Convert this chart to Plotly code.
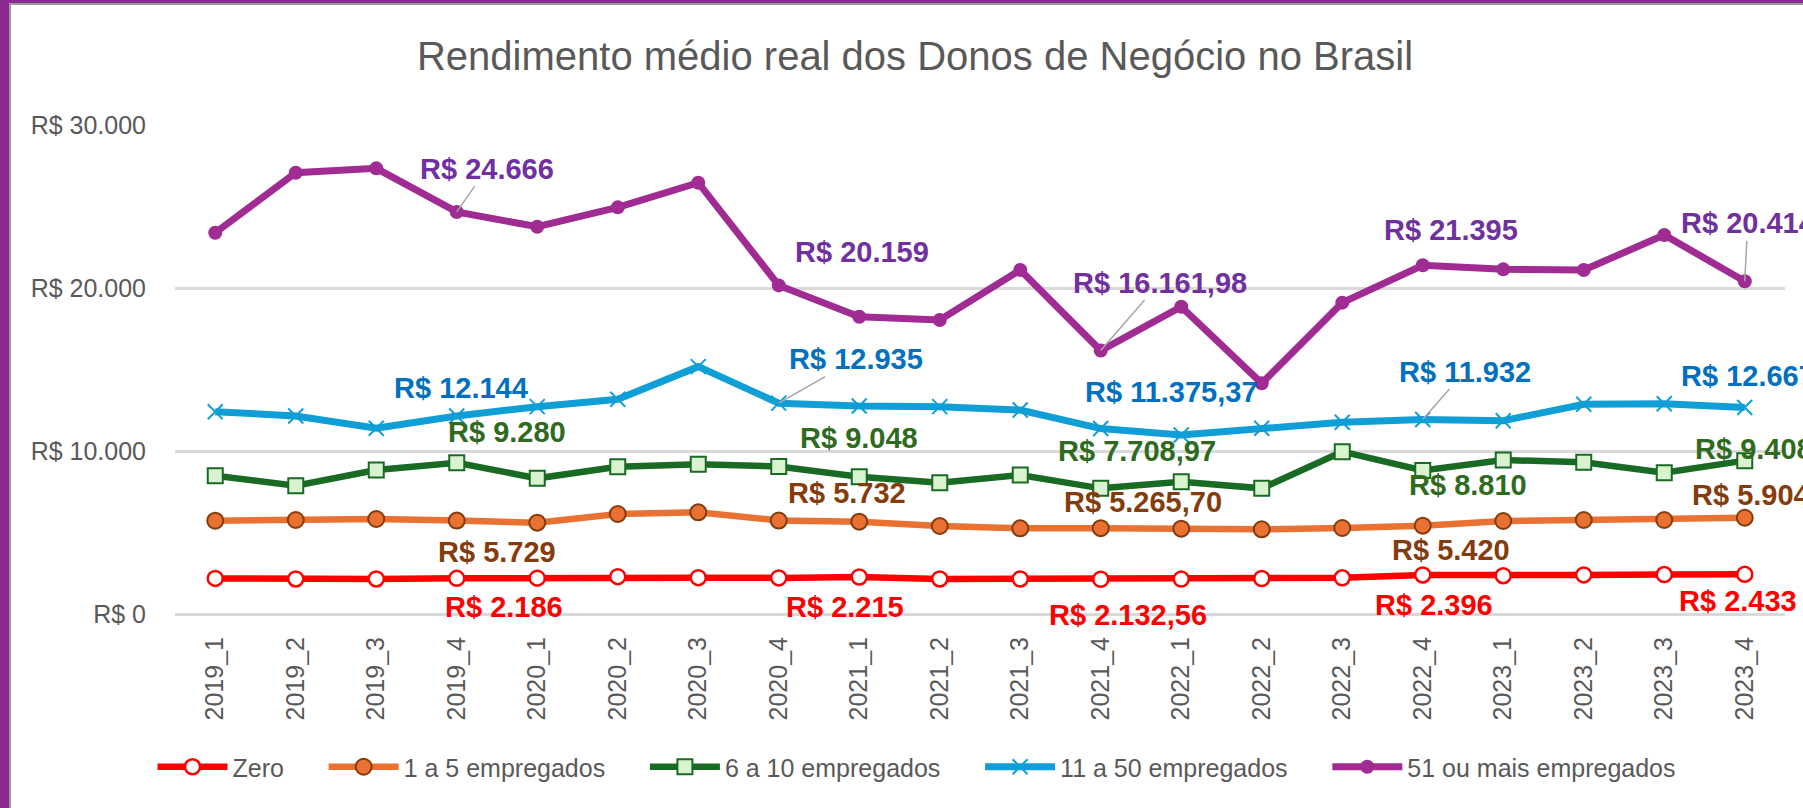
import plotly.graph_objects as go

quarters = ['2019_1', '2019_2', '2019_3', '2019_4', '2020_1', '2020_2', '2020_3', '2020_4',
            '2021_1', '2021_2', '2021_3', '2021_4', '2022_1', '2022_2', '2022_3', '2022_4',
            '2023_1', '2023_2', '2023_3', '2023_4']

zero = [2183, 2150, 2150, 2186, 2200, 2290, 2230, 2215, 2270, 2150,
        2150, 2132.56, 2140, 2180, 2220, 2396, 2350, 2400, 2420, 2433]
emp_1_5 = [5724, 5767, 5828, 5729, 5603, 6135, 6237, 5732, 5665, 5398,
           5256, 5265.70, 5235, 5194, 5276, 5420, 5705, 5767, 5767, 5904]
emp_6_10 = [8487, 7874, 8834, 9280, 8323, 9038, 9181, 9048, 8425, 8057,
            8528, 7708.97, 8119, 7710, 9959, 8810, 9448, 9304, 8670, 9408]
emp_11_50 = [12413, 12147, 11391, 12144, 12720, 13170, 15174, 12935, 12761, 12720,
             12515, 11375.37, 10982, 11391, 11759, 11932, 11861, 12864, 12900, 12667]
emp_51 = [23393, 27074, 27342, 24666, 23761, 24949, 26460, 20159, 18240, 18037,
          21104, 16161.98, 18853, 14153, 19100, 21395, 21145, 21104, 23252, 20414]

label_idx = [3, 7, 11, 15, 19]

W, H = 1803, 808
ML, MR, MT, MB = 175, 18, 125, 194
FONT = 'Liberation Sans, Arial, sans-serif'
GREY = '#595959'
PAD = '\u00a0' * 5   # extra room between legend entries


def brl(v):
    s = f'{v:,.0f}' if float(v).is_integer() else f'{v:,.2f}'
    return 'R$ ' + s.replace(',', '#').replace('.', ',').replace('#', '.')


series = [
    dict(name='Zero', y=zero, line='#FF0000', width=6.5,
         marker=dict(symbol='circle', size=15, color='white', line=dict(color='#FF0000', width=2.5)),
         label_color='#FF0000',
         offs=[(47, 29, 0), (66, 29, 0), (27, 36, 0), (11, 30, 0), (-7, 27, 0)]),
    dict(name='1 a 5 empregados', y=emp_1_5, line='#E97132', width=6.5,
         marker=dict(symbol='circle', size=16, color='#E97132', line=dict(color='#843C0C', width=2)),
         label_color='#843C0C',
         offs=[(40, 31, 0), (68, -28, 0), (42, -26, 0), (28, 24, 0), (6, -23, 0)]),
    dict(name='6 a 10 empregados', y=emp_6_10, line='#196B24', width=6.5,
         marker=dict(symbol='square', size=15, color='#D9F2D0', line=dict(color='#196B24', width=2)),
         label_color='#2E6B1E',
         offs=[(50, -31, 0), (80, -29, 0), (36, -37, 0), (45, 15, 0), (9, -12, 0)]),
    dict(name='11 a 50 empregados', y=emp_11_50, line='#0F9ED5', width=7,
         marker=dict(symbol='x-thin', size=15, color='#0F9ED5', line=dict(color='#0F9ED5', width=2)),
         label_color='#0070C0',
         offs=[(4, -28, 0), (77, -44, 1), (71, -37, 0), (42, -48, 1), (3, -32, 0)]),
    dict(name='51 ou mais empregados', y=emp_51, line='#A02B93', width=7,
         marker=dict(symbol='circle', size=14, color='#A02B93'),
         label_color='#7030A0',
         offs=[(30, -43, 1), (83, -33, 0), (59, -68, 1), (28, -35, 0), (3, -58, 1)]),
]

fig = go.Figure()
annotations = []
for k, s in enumerate(series):
    fig.add_trace(go.Scatter(
        x=quarters, y=s['y'], name=s['name'] + (PAD if k < len(series) - 1 else ''),
        mode='lines+markers', line=dict(color=s['line'], width=s['width']),
        marker=s['marker'], cliponaxis=False))
    for i, (dx, dy, leader) in zip(label_idx, s['offs']):
        a = dict(x=quarters[i], y=s['y'][i], text=brl(s['y'][i]),
                 font=dict(family=FONT, size=29, color=s['label_color'], weight='bold'))
        if leader:
            a.update(showarrow=True, arrowhead=0, arrowwidth=1.5, arrowcolor='#A6A6A6',
                     ax=dx, ay=dy, standoff=0)
        else:
            a.update(showarrow=False, xshift=dx, yshift=-dy)
        annotations.append(a)

# purple frame on the left / top edge of the screenshot
pw, ph = W - ML - MR, H - MT - MB
def px(x): return (x - ML) / pw
def py(y): return (H - MB - y) / ph
shapes = [
    dict(type='rect', xref='paper', yref='paper', x0=px(0), x1=px(9), y0=py(H), y1=py(0),
         fillcolor='#8A2A90', line_width=0),
    dict(type='rect', xref='paper', yref='paper', x0=px(0), x1=px(W), y0=py(3), y1=py(0),
         fillcolor='#8A2A90', line_width=0),
    dict(type='rect', xref='paper', yref='paper', x0=px(9), x1=px(11), y0=py(H), y1=py(3),
         fillcolor='#9A9A9A', line_width=0),
    dict(type='rect', xref='paper', yref='paper', x0=px(9), x1=px(W), y0=py(5), y1=py(3),
         fillcolor='#9A9A9A', line_width=0),
]

fig.update_layout(
    width=W, height=H,
    margin=dict(l=ML, r=MR, t=MT, b=MB),
    paper_bgcolor='white', plot_bgcolor='white',
    separators=',.',
    font=dict(family=FONT, color=GREY),
    title=dict(text='Rendimento médio real dos Donos de Negócio no Brasil',
               font=dict(family=FONT, size=40, color=GREY),
               x=0.5075, xanchor='center', y=1 - 56 / H, yanchor='middle'),
    showlegend=True,
    legend=dict(orientation='h', xref='container', x=0.5086, xanchor='center',
                yref='container', y=1 - 767 / H, yanchor='middle',
                itemwidth=70, font=dict(size=25, color=GREY)),
    annotations=annotations, shapes=shapes,
)
fig.update_xaxes(type='category', range=[-0.5, 19.5], tickangle=-90, showgrid=False,
                 showline=False, zeroline=False, ticks='', ticklabelstandoff=17,
                 tickfont=dict(size=25, color=GREY))
fig.update_yaxes(range=[0, 30000], dtick=10000, tickprefix='R$ ', tickformat=',.0f',
                 showgrid=True, gridcolor='#D9D9D9', gridwidth=2.5, zeroline=True,
                 zerolinecolor='#D9D9D9', zerolinewidth=2.5, showline=False, ticks='',
                 ticklabelstandoff=28, tickfont=dict(size=25, color=GREY))

fig.write_html("out.html", config={'displayModeBar': False},
               post_script="document.body.style.margin = '0';")
